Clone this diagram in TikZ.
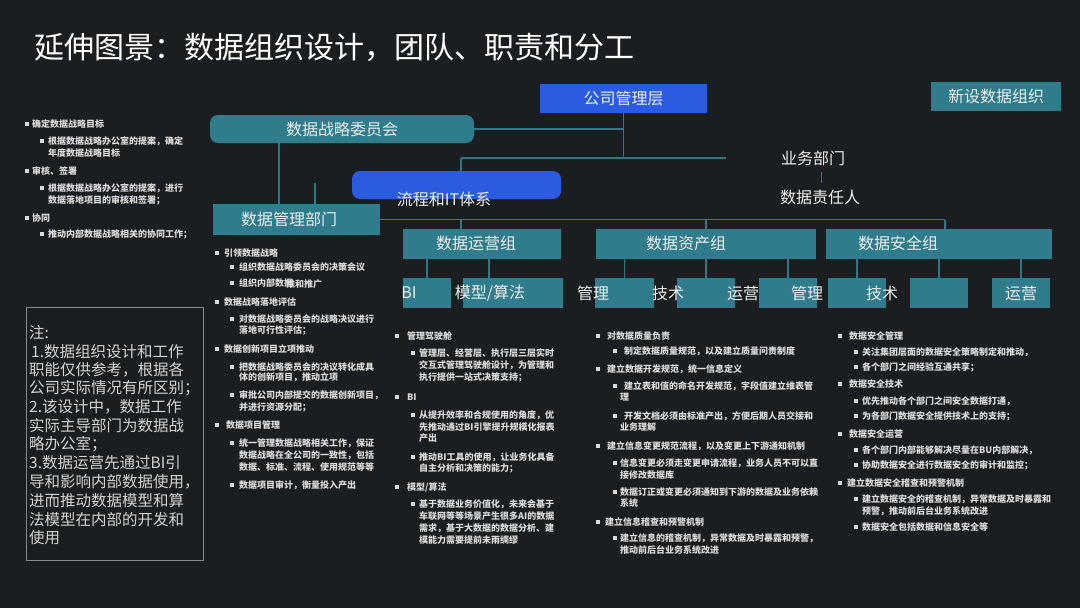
\documentclass[tikz,border=0pt]{standalone}
\usepackage{fontspec}
\newfontfamily\cjk{Noto Sans CJK SC}
\definecolor{bgc}{HTML}{1B1E20}
\definecolor{tealc}{HTML}{2E7C8C}
\definecolor{linec}{HTML}{2E7888}
\definecolor{bluec}{HTML}{2A5BE0}
\definecolor{boxtxt}{HTML}{EEEEEE}
\definecolor{smallc}{HTML}{DADADA}
\definecolor{notec}{HTML}{D2D2D2}
\definecolor{notebd}{HTML}{8A8A8A}
\newcounter{tn}
\newcommand\stx[3]{\stepcounter{tn}\node[small] (s\thetn) at (#1,#2) {#3};}
\newcommand\sbl[4]{\fill[smallc] ({#1-1.6},{#3-1.6}) rectangle ({#1+1.6},{#3+1.6});\stx{#2}{#3}{#4}}
\newcommand\ntx[3]{\stepcounter{tn}\node[note] (n\thetn) at (#1,#2) {#3};}
\tikzset{
 conn/.style={draw=linec, line width=1.5pt},
 tbox/.style={fill=tealc, inner sep=0pt, text=boxtxt, font=\cjk\fontsize{16}{16}\selectfont},
 bbox/.style={tbox, fill=bluec},
 lbl/.style={inner sep=0pt, text=boxtxt, font=\cjk\fontsize{16}{16}\selectfont},
 small/.style={inner sep=0pt, text=smallc, font=\cjk\bfseries\fontsize{9}{9}\selectfont, anchor=west},
 note/.style={inner sep=0pt, text=notec, font=\cjk\fontsize{15.5}{15.5}\selectfont, anchor=west},
}
\begin{document}
\begin{tikzpicture}[x=1pt,y=-1pt]
\fill[bgc] (0,0) rectangle (1080,608);
\useasboundingbox (0,0) rectangle (1080,608);

% title
\node[anchor=west, inner sep=0pt, text=white, font=\cjk\fontsize{30}{30}\selectfont] (title) at (34,47) {延伸图景：数据组织设计，团队、职责和分工};

% helper coordinates
\coordinate (h1l) at (461,158);
\coordinate (h1r) at (726,158);
\coordinate (v1) at (279,0);
\coordinate (d1) at (315,183);
\coordinate (h2r) at (945,220);
\coordinate (m1) at (489,278);

% boxes
\node[bbox, minimum width=167pt, minimum height=29pt] (gs) at (623.5,98.5) {公司管理层};
\node[tbox, minimum width=130pt, minimum height=29pt] (xs) at (996,96.5) {新设数据组织};
\node[tbox, minimum width=264pt, minimum height=28pt, rounded corners=8pt] (wyh) at (342,129) {数据战略委员会};
\node[bbox, minimum width=209pt, minimum height=28pt, rounded corners=8pt] (lc) at (456.5,185) {};
\node[tbox, minimum width=167pt, minimum height=31pt] (glb) at (296.5,219.5) {};
\node[tbox, minimum width=158pt, minimum height=30pt] (yy) at (482,244) {};
\node[tbox, minimum width=220pt, minimum height=30pt] (zc) at (706,244) {};
\node[tbox, minimum width=226pt, minimum height=30pt] (aq) at (939,244) {};
% sub boxes
\node[tbox, minimum width=48pt, minimum height=30pt] (bi) at (427,293) {};
\node[tbox, minimum width=100pt, minimum height=30pt] (mx) at (513,293) {};
\node[tbox, minimum width=59pt, minimum height=30pt] (z1) at (624.5,293) {};
\node[tbox, minimum width=58pt, minimum height=30pt] (z2) at (706,293) {};
\node[tbox, minimum width=58pt, minimum height=30pt] (z3) at (788,293) {};
\node[tbox, minimum width=58pt, minimum height=30pt] (a1) at (857,293) {};
\node[tbox, minimum width=58pt, minimum height=30pt] (a2) at (939,293) {};
\node[tbox, minimum width=58pt, minimum height=30pt] (a3) at (1021,293) {};

% connector lines
\draw[conn] (wyh.east) -- (wyh.east -| gs.south);
\draw[conn] (gs.south) -- (gs.south |- h1r);
\draw[conn] (h1l) -- (h1r);
\draw[conn] (h1l) -- (h1l |- lc.north);
\draw[conn] (v1 |- wyh.south) -- (v1 |- glb.north);
\draw[conn] (d1) -- (d1 |- glb.north);
\draw[conn] (glb.east) -- (glb.east -| h2r);
\draw[conn] (yy.north -| h1l) -- (h1l |- glb.east);
\draw[conn] (zc.north) -- (zc.north |- glb.east);
\draw[conn] (aq.north -| h2r) -- (h2r);
\draw[conn] (yy.south -| bi.north) -- (bi.north);
\draw[conn] (m1 |- yy.south) -- (m1);
\draw[conn] (zc.south -| z1.north) -- (z1.north);
\draw[conn] (zc.south -| z2.north) -- (z2.north);
\draw[conn] (zc.south -| z3.north) -- (z3.north);
\draw[conn] (aq.south -| a1.north) -- (a1.north);
\draw[conn] (aq.south -| a2.north) -- (a2.north);
\draw[conn] (aq.south -| a3.north) -- (a3.north);

% box labels
\node[lbl] (lct) at (444,199) {流程和IT体系};
\node[lbl] (glbt) at (289,219) {数据管理部门};
\node[lbl] (yyt) at (476,243) {数据运营组};
\node[lbl] (zct) at (686,243) {数据资产组};
\node[lbl] (aqt) at (898,243) {数据安全组};
\node[lbl] (bit) at (409,293) {BI};
\node[lbl] (mxt) at (490,293) {模型/算法};
\node[lbl] (z1t) at (593,293) {管理};
\node[lbl] (z2t) at (668,293) {技术};
\node[lbl] (z3t) at (743,293) {运营};
\node[lbl] (a1t) at (807,293) {管理};
\node[lbl] (a2t) at (882,293) {技术};
\node[lbl] (a3t) at (1021,293) {运营};

% business dept
\node[lbl] (ywbm) at (813,158) {业务部门};
\node[lbl] (sjzr) at (820,197) {数据责任人};
\draw[draw=linec, line width=0.8pt] (821,172) -- (821,183);

% top-left bullets
\sbl{27}{32}{124}{确定数据战略目标}
\sbl{42}{48}{141}{根据数据战略办公室的提案，确定}
\stx{48}{153}{年度数据战略目标}
\sbl{27}{32}{171}{审核、签署}
\sbl{42}{48}{188}{根据数据战略办公室的提案，进行}
\stx{48}{200}{数据落地项目的审核和签署；}
\sbl{27}{32}{218}{协同}
\sbl{42}{48}{234}{推动内部数据战略相关的协同工作；}

% data mgmt dept bullets
\sbl{217}{224}{253}{引领数据战略}
\sbl{232}{239}{267}{组织数据战略委员会的决策会议}
\sbl{232}{239}{283}{组织内部数据}
\stx{286}{284}{推和推广}
\sbl{217}{224}{302}{数据战略落地评估}
\sbl{232}{239}{319}{对数据战略委员会的战略决议进行}
\stx{239}{330}{落地可行性评估；}
\sbl{217}{224}{349}{数据创新项目立项推动}
\sbl{232}{239}{367}{把数据战略委员会的决议转化成具}
\stx{239}{377}{体的创新项目，推动立项}
\sbl{232}{239}{395}{审批公司内部提交的数据创新项目，}
\stx{239}{407}{并进行资源分配；}
\sbl{217}{226}{425}{数据项目管理}
\sbl{232}{239}{443}{统一管理数据战略相关工作，保证}
\stx{239}{455}{数据战略在全公司的一致性，包括}
\stx{239}{467}{数据、标准、流程、使用规范等等}
\sbl{232}{239}{485}{数据项目审计，衡量投入产出}

% ops group bullets
\sbl{397}{407}{336}{管理驾驶舱}
\sbl{413}{419}{353}{管理层、经营层、执行层三层实时}
\stx{419}{365}{交互式管理驾驶舱设计，为管理和}
\stx{419}{377}{执行提供一站式决策支持；}
\sbl{397}{407}{397}{BI}
\sbl{413}{419}{415}{从提升效率和合规使用的角度，优}
\stx{419}{427}{先推动通过BI引擎提升规模化报表}
\stx{419}{438}{产出}
\sbl{413}{419}{457}{推动BI工具的使用，让业务化具备}
\stx{419}{468}{自主分析和决策的能力；}
\sbl{397}{407}{487}{模型/算法}
\sbl{413}{419}{504}{基于数据业务价值化，未来会基于}
\stx{419}{516}{车联网等等场景产生很多AI的数据}
\stx{419}{528}{需求，基于大数据的数据分析、建}
\stx{419}{540}{模能力需要提前未雨绸缪}

% asset group bullets
\sbl{598}{607}{336}{对数据质量负责}
\sbl{615}{624}{351}{制定数据质量规范，以及建立质量问责制度}
\sbl{598}{607}{369}{建立数据开发规范，统一信息定义}
\sbl{615}{624}{386}{建立表和值的命名开发规范，字段值建立维表管}
\stx{620}{397}{理}
\sbl{615}{624}{416}{开发文档必须由标准产出，方便后期人员交接和}
\stx{620}{427}{业务理解}
\sbl{598}{607}{446}{建立信息变更规范流程，以及变更上下游通知机制}
\sbl{615}{620}{463}{信息变更必须走变更申请流程，业务人员不可以直}
\stx{620}{475}{接修改数据库}
\sbl{615}{620}{492}{数据订正或变更必须通知到下游的数据及业务依赖}
\stx{620}{503}{系统}
\sbl{598}{605}{522}{建立信息稽查和预警机制}
\sbl{615}{620}{538}{建立信息的稽查机制，异常数据及时暴露和预警，}
\stx{620}{550}{推动前后台业务系统改进}

% security group bullets
\sbl{840}{849}{336}{数据安全管理}
\sbl{856}{862}{352}{关注集团层面的数据安全策略制定和推动，}
\sbl{856}{862}{367}{各个部门之间经验互通共享；}
\sbl{840}{849}{384}{数据安全技术}
\sbl{856}{862}{401}{优先推动各个部门之间安全数据打通，}
\sbl{856}{862}{416}{为各部门数据安全提供技术上的支持；}
\sbl{840}{849}{434}{数据安全运营}
\sbl{856}{862}{450}{各个部门内部能够解决尽量在BU内部解决，}
\sbl{856}{862}{465}{协助数据安全进行数据安全的审计和监控；}
\sbl{840}{847}{483}{建立数据安全稽查和预警机制}
\sbl{856}{862}{499}{建立数据安全的稽查机制，异常数据及时暴露和}
\stx{862}{511}{预警，推动前后台业务系统改进}
\sbl{856}{862}{527}{数据安全包括数据和信息安全等}

% note box
\draw[draw=notebd, line width=1pt] (26,307) rectangle (203,560);
\ntx{29}{332}{注:}
\ntx{31}{352}{1.数据组织设计和工作}
\ntx{29}{370}{职能仅供参考，根据各}
\ntx{29}{388}{公司实际情况有所区别；}
\ntx{29}{407}{2.该设计中，数据工作}
\ntx{29}{426}{实际主导部门为数据战}
\ntx{29}{444}{略办公室；}
\ntx{29}{463}{3.数据运营先通过BI引}
\ntx{29}{482}{导和影响内部数据使用，}
\ntx{29}{501}{进而推动数据模型和算}
\ntx{29}{520}{法模型在内部的开发和}
\ntx{29}{538}{使用}
\end{tikzpicture}
\end{document}
